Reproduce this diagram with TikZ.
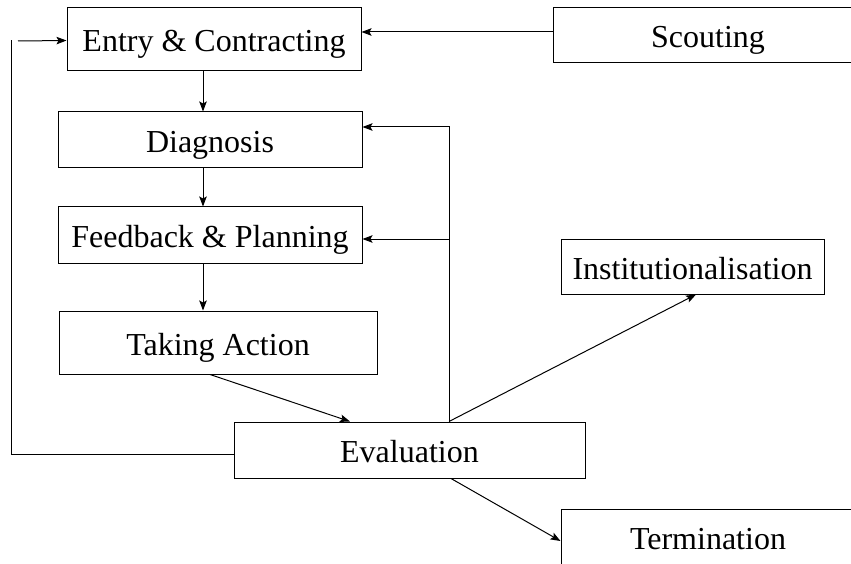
\documentclass[tikz,border=0pt]{standalone}
\usepackage{fontspec}
\setmainfont{Liberation Serif}
\usepackage{tikz}
\usetikzlibrary{shapes,arrows.meta,positioning,calc}

\begin{document}
\begin{tikzpicture}[x=1pt, y=-1pt,
    stage/.style={rectangle, draw, line width=1pt, inner sep=0pt,
        text height=25pt, text depth=0pt,
        font=\fontsize{32}{38}\selectfont},
    arrow/.style={-{Stealth[length=10pt, width=7.5pt, inset=2pt]}, line width=1pt},
    link/.style={line width=1pt}]

    \useasboundingbox (0,0) rectangle (851,564);

    \node[stage, minimum width=294, minimum height=63] (entry) at (214,39.5) {Entry \& Contracting};
    \node[stage, minimum width=310, minimum height=55] (scout) at (708,35.5) {Scouting};
    \node[stage, minimum width=304, minimum height=56] (diag) at (210,140) {Diagnosis};
    \node[stage, minimum width=304, minimum height=56] (feed) at (210,235) {Feedback \& Planning};
    \node[stage, minimum width=318, minimum height=63] (act) at (218,342.5) {Taking Action};
    \node[stage, minimum width=351, minimum height=56] (eval) at (409.5,450) {Evaluation};
    \node[stage, minimum width=263, minimum height=55] (inst) at (692.5,266.5) {Institutionalisation};
    \node[stage, minimum width=294, minimum height=56] (term) at (708,537) {Termination};

    \coordinate (spine) at (203,0);
    \coordinate (loop) at (449,0);
    \coordinate (ret) at (11,40);

    % main sequence
    \draw[arrow] ([yshift=3.5pt]scout.west) -- ([yshift=3.5pt]scout.west -| entry.east);
    \draw[arrow] (entry.south -| spine) -- (diag.north -| spine);
    \draw[arrow] (diag.south -| spine) -- (feed.north -| spine);
    \draw[arrow] (feed.south -| spine) -- (act.north -| spine);
    \draw[arrow] ([xshift=-8pt]act.south) -- ([xshift=-59.5pt]eval.north);

    % feedback from evaluation
    \draw[arrow] (eval.north -| loop) |- ([yshift=13pt]diag.east);
    \draw[arrow] ([yshift=-4pt]feed.east -| loop) -- ([yshift=-4pt]feed.east);
    \draw[arrow] (eval.north -| loop) -- ([xshift=3.5pt]inst.south);
    \draw[arrow] ([xshift=41.5pt]eval.south) -- ([yshift=-4pt]term.west);

    % return to entry
    \draw[link] ([yshift=-4pt]eval.west) -| (ret);
    \draw[arrow] ([xshift=7pt, yshift=-1pt]ret) -- ([yshift=-1pt]entry.west);
\end{tikzpicture}
\end{document}
